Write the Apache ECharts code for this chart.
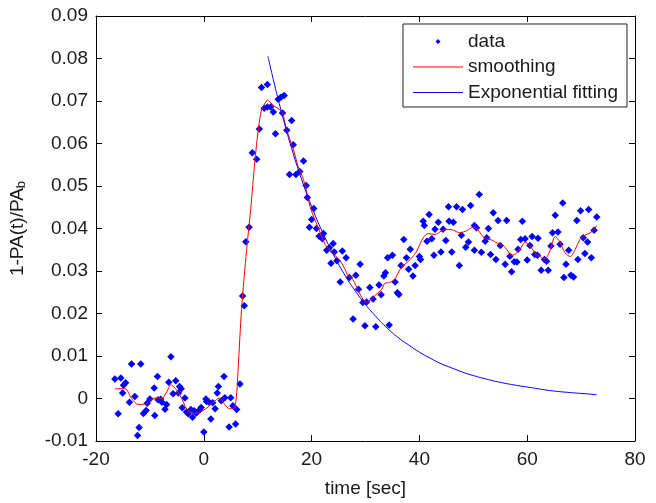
<!DOCTYPE html>
<html>
<head>
<meta charset="utf-8">
<script src="https://cdn.jsdelivr.net/npm/echarts@6/dist/echarts.min.js"></script>
<style>html,body{margin:0;padding:0;background:#fff}#c{width:656px;height:503px}</style>
</head>
<body>
<div id="c"></div>
<script>
// x ticks and y ticks
const xTicks = [-20, 0, 20, 40, 60, 80];
const yTicks = [-0.01, 0, 0.01, 0.02, 0.03, 0.04, 0.05, 0.06, 0.07, 0.08, 0.09];

// measured data points [time, value]
const dataPoints = [
[-16.5,0.0046],[-15.4,0.0048],[-15.9,-0.0036],[-14.9,0.0031],[-14.5,0.0037],[-15.05,0.0013],[-13.8,-0.0009],[-13.4,0.0081],[-12.8,0.0005],[-12.3,-0.0087],[-12.0,-0.0068],[-11.7,0.0081],[-11.2,-0.0035],[-10.7,-0.0028],[-10.5,-0.0011],[-10.0,-0.0001],[-9.2,0.0025],[-9.1,-0.0040],[-8.6,0.0052],[-8.5,-0.0003],[-8.0,-0.0002],[-7.75,-0.0009],[-7.2,-0.0025],[-6.9,-0.0014],[-6.5,0.0038],[-6.1,0.0098],[-5.7,0.0011],[-5.2,0.0042],[-4.7,0.0013],[-4.5,0.0028],[-4.2,0.0023],[-4.0,-0.0022],[-3.5,0.0001],[-3.2,-0.0032],[-2.9,-0.0036],[-2.4,-0.0026],[-2.1,-0.0044],[-1.8,-0.0029],[-1.45,-0.0034],[-1.2,-0.0032],[-0.8,-0.0027],[-0.5,-0.0021],[0.0,-0.0079],[0.4,-0.0001],[0.5,-0.0007],[1.0,-0.0009],[1.3,-0.0048],[1.65,-0.0010],[2.1,-0.0024],[2.5,0.0013],[2.7,0.0028],[3.25,-0.0005],[3.75,0.0052],[3.9,0.0002],[4.7,-0.0067],[5.0,0.0002],[5.4,-0.0017],[5.9,-0.0060],[6.1,-0.0026],[6.7,0.0034],
[7.2,0.0241],[7.5,0.0218],[7.8,0.0369],[8.4,0.0403],[9.0,0.0578],[9.8,0.0563],[10.3,0.0634],[10.7,0.0732],[11.8,0.0739],[11.2,0.0683],[11.8,0.0686],[12.4,0.0686],[12.9,0.0674],[13.3,0.0623],[13.8,0.0704],[14.3,0.0709],[14.9,0.0713],[14.6,0.0672],[15.4,0.0631],[16.3,0.0654],[16.6,0.0597],[15.9,0.0527],[17.1,0.0527],[17.8,0.0534],[18.5,0.0559],[19.0,0.0501],
[19.2,0.0473],[20.4,0.0447],[20.0,0.0421],[19.6,0.0403],[20.9,0.0400],[21.4,0.0382],[22.2,0.0388],[22.0,0.0376],[22.8,0.0349],[23.3,0.0355],[24.0,0.0365],[24.2,0.0345],[23.6,0.0318],[24.7,0.0324],[25.7,0.0347],[26.4,0.0331],[29.0,0.0316],[27.0,0.0285],[28.2,0.0290],[25.3,0.0274],[28.7,0.0257],[29.5,0.0226],[30.2,0.0227],[30.8,0.0261],[31.4,0.0234],[32.5,0.0267],[32.9,0.0244],[33.4,0.0288],[33.7,0.0296],[34.1,0.0331],[35.0,0.0337],[35.5,0.0274],[35.9,0.0249],[36.2,0.0245],[36.6,0.0313],[37.1,0.0374],[37.6,0.0331],[38.3,0.0351],[38.0,0.0304],[38.8,0.0288],[39.2,0.0313],[27.7,0.0187],[29.9,0.0171],[31.9,0.0169],[34.4,0.0173],
[40.0,0.0334],[40.2,0.0327],[40.7,0.0417],[40.9,0.0407],[41.8,0.0433],[41.4,0.0370],[42.3,0.0376],[42.9,0.0398],[43.5,0.0415],[42.7,0.0337],[44.0,0.0345],[44.4,0.0398],[44.9,0.0372],[45.4,0.0451],[45.5,0.0417],[46.3,0.0415],[46.9,0.0451],[46.0,0.0345],[47.4,0.0313],[48.0,0.0445],[47.8,0.0384],[48.6,0.0356],[49.1,0.0368],[49.5,0.0454],[50.2,0.0407],[50.6,0.0402],[50.2,0.0349],[51.1,0.0480],[51.5,0.0344],[52.2,0.0370],[52.5,0.0378],[52.8,0.0400],[53.2,0.0339],[53.7,0.0437],[54.2,0.0327],[54.6,0.0419],[55.0,0.0360],[55.9,0.0316],[56.2,0.0419],[56.8,0.0335],[57.6,0.0322],[57.1,0.0298],[58.1,0.0321],
[58.3,0.0351],[58.8,0.0374],[59.1,0.0417],[59.6,0.0376],[60.0,0.0326],[60.5,0.0360],[60.9,0.0381],[61.4,0.0339],[61.9,0.0337],[62.0,0.0377],[62.6,0.0302],[63.2,0.0327],[63.6,0.0323],[63.9,0.0302],[64.4,0.0359],[64.7,0.0390],[65.2,0.0431],[65.7,0.0392],[66.1,0.0363],[66.6,0.0460],[66.8,0.0285],[67.2,0.0316],[67.7,0.0349],[68.1,0.0290],[68.6,0.0286],[69.2,0.0419],[69.4,0.0327],[69.9,0.0442],[70.4,0.0378],[70.7,0.0341],[71.2,0.0368],[71.4,0.0445],[71.9,0.0331],[72.4,0.0396],[72.9,0.0427]
];

// smoothing curve
const smoothing = [
[-16.5,0.0023],[-14.6,0.0023],[-13.4,0.0000],[-12.15,-0.0014],[-10.6,-0.0012],[-9.7,0.0000],[-8.75,0.0001],[-7.8,0.0000],[-6.9,0.0015],[-6.1,0.0032],[-5.0,0.0019],[-4.1,0.0000],[-3.2,-0.0024],[-1.95,-0.0036],[-0.7,-0.0032],[0.5,-0.0023],[1.75,-0.0009],[2.9,0.0001],[3.6,-0.0009],[4.55,-0.0023],[5.35,-0.0024],[5.97,-0.0005],[6.4,0.0077],[7.0,0.0210],[7.95,0.0351],[8.7,0.0445],[9.5,0.0562],[10.1,0.0632],[10.7,0.0679],[11.2,0.0691],[11.8,0.0702],[12.4,0.0696],[13.2,0.0687],[13.95,0.0681],[14.6,0.0672],[15.2,0.0640],[16.0,0.0609],[16.8,0.0578],[17.5,0.0546],[18.5,0.0515],[19.7,0.0452],[20.6,0.0421],[21.6,0.0390],[22.5,0.0363],[23.4,0.0347],[24.3,0.0337],[25.3,0.0324],[26.2,0.0304],[26.8,0.0288],[27.4,0.0285],[28.4,0.0261],[29.3,0.0238],[30.2,0.0226],[31.1,0.0234],[32.0,0.0245],[33.0,0.0257],[33.6,0.0271],[34.5,0.0273],[35.5,0.0282],[36.4,0.0304],[37.3,0.0316],[38.3,0.0327],[39.5,0.0347],[40.7,0.0378],[41.65,0.0388],[42.9,0.0386],[44.1,0.0394],[45.4,0.0398],[46.3,0.0396],[47.5,0.0390],[48.8,0.0395],[49.9,0.0403],[50.6,0.0400],[51.5,0.0386],[52.2,0.0376],[53.4,0.0373],[54.5,0.0365],[55.3,0.0363],[56.2,0.0351],[57.1,0.0337],[57.7,0.0339],[58.7,0.0352],[59.6,0.0367],[60.5,0.0360],[61.4,0.0343],[62.4,0.0334],[63.3,0.0329],[64.2,0.0347],[65.2,0.0381],[66.1,0.0367],[67.0,0.0343],[68.0,0.0334],[68.9,0.0351],[69.8,0.0374],[70.7,0.0384],[71.7,0.0390],[72.4,0.0398],[72.9,0.0407]
];

// exponential fitting curve
const expFit = [
[11.9,0.0805],[13,0.0745],[14,0.0694],[15,0.0646],[16,0.0601],[18,0.0521],[20,0.0452],[22,0.0392],[24,0.0340],[26,0.0294],[28,0.0255],[30,0.0221],[32,0.0192],[34,0.0166],[36,0.0144],[38,0.0126],[40,0.0109],[42,0.0095],[44,0.0082],[46,0.0072],[48,0.0062],[50,0.0054],[52,0.0047],[55,0.0038],[58,0.0031],[61,0.0025],[64,0.0019],[67,0.0015],[70,0.0012],[72.9,0.0009]
];

const FONT = '"Liberation Sans", Arial, sans-serif';
const TXT = '#1a1a1a';
const AX = '#000';

const chart = echarts.init(document.getElementById('c'), null, {renderer: 'canvas'});
const xBase = {
  type: 'value', min: xTicks[0], max: xTicks[xTicks.length - 1], interval: xTicks[1] - xTicks[0],
  splitLine: {show: false},
  axisLine: {show: true, onZero: false, lineStyle: {color: AX, width: 1}},
  axisTick: {show: true, inside: true, length: 6, lineStyle: {color: AX}}
};
const yBase = {
  type: 'value', min: yTicks[0], max: yTicks[yTicks.length - 1], interval: 0.01,
  splitLine: {show: false},
  axisLine: {show: true, onZero: false, lineStyle: {color: AX, width: 1}},
  axisTick: {show: true, inside: true, length: 6, lineStyle: {color: AX}}
};
// legend icons: a full-width thin line, and a small centred diamond (zero-area end points keep the box wide)
const LINE_ICON = 'path://M0,0H50V1H0Z';
const DOT_ICON = 'path://M0,3L0,3ZM50,3L50,3ZM25,0.5L27.5,3L25,5.5L22.5,3Z';

chart.setOption({
  animation: false,
  backgroundColor: '#fff',
  textStyle: {fontFamily: FONT},
  grid: {left: 96, right: 21, top: 16, bottom: 61, containLabel: false},
  xAxis: [
    Object.assign({}, xBase, {
      position: 'bottom',
      name: 'time [sec]', nameLocation: 'middle', nameGap: 38,
      nameTextStyle: {fontSize: 19, color: TXT, fontFamily: FONT},
      axisLabel: {fontSize: 19, color: TXT, fontFamily: FONT, margin: 9}
    }),
    Object.assign({}, xBase, {position: 'top', axisLabel: {show: false}})
  ],
  yAxis: [
    Object.assign({}, yBase, {
      position: 'left',
      name: '{a|1-PA(t)/PA}{s|b}', nameLocation: 'middle', nameGap: 68,
      nameTextStyle: {color: TXT, fontFamily: FONT, rich: {
        a: {fontSize: 19, color: TXT, fontFamily: FONT},
        s: {fontSize: 13, color: TXT, fontFamily: FONT, verticalAlign: 'bottom', padding: [8, 0, 0, 0]}
      }},
      axisLabel: {fontSize: 19, color: TXT, fontFamily: FONT, margin: 8,
        formatter: v => Math.abs(v) < 1e-9 ? '0' : v.toFixed(2)}
    }),
    Object.assign({}, yBase, {position: 'right', axisLabel: {show: false}})
  ],
  legend: {
    orient: 'vertical', left: 403, top: 24,
    padding: [8, 9, 5, 10], itemGap: 6.5,
    itemWidth: 50, itemHeight: 6,
    symbolKeepAspect: true,
    backgroundColor: '#fff', borderColor: '#222', borderWidth: 1,
    textStyle: {fontSize: 19, color: TXT, fontFamily: FONT, lineHeight: 19},
    data: [
      {name: 'data', icon: DOT_ICON, itemStyle: {color: '#0000ff', opacity: 1}},
      {name: 'smoothing', icon: LINE_ICON, itemStyle: {color: '#ff0000'}},
      {name: 'Exponential fitting', icon: LINE_ICON, itemStyle: {color: '#0000ff'}}
    ]
  },
  series: [
    {name: 'data', type: 'scatter', data: dataPoints, symbol: 'diamond', symbolSize: 7.5,
      itemStyle: {color: '#0000ff', opacity: 1}, xAxisIndex: 0, yAxisIndex: 0},
    {name: 'smoothing', type: 'line', data: smoothing, showSymbol: false, symbol: 'none', smooth: 0.3,
      lineStyle: {color: '#ff0000', width: 1}, itemStyle: {color: '#ff0000'}, xAxisIndex: 0, yAxisIndex: 0},
    {name: 'Exponential fitting', type: 'line', data: expFit, showSymbol: false, symbol: 'none', smooth: true,
      lineStyle: {color: '#0000ff', width: 1}, itemStyle: {color: '#0000ff'}, xAxisIndex: 0, yAxisIndex: 0}
  ]
});
</script>
</body>
</html>
